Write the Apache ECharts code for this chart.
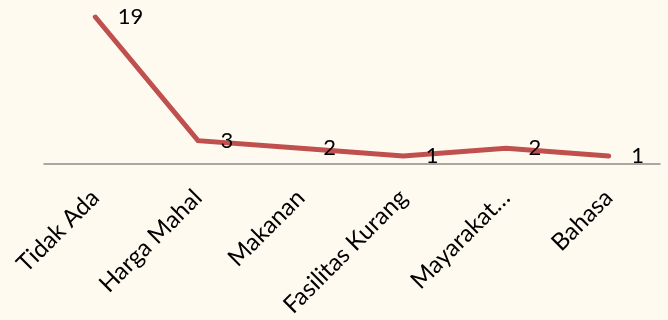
<!DOCTYPE html>
<html><head><meta charset="utf-8">
<script src="https://cdn.jsdelivr.net/npm/echarts@6/dist/echarts.min.js"></script>
<style>html,body{margin:0;padding:0;background:#FEFAF0;}#c{width:668px;height:320px;}</style>
</head><body><div id="c"></div>
<script>
var categories = ["Tidak Ada", "Harga Mahal", "Makanan", "Fasilitas Kurang", "Mayarakat…", "Bahasa"];
var values = [19, 3, 2, 1, 2, 1];

var chart = echarts.init(document.getElementById('c'), null, {renderer: 'canvas'});
chart.setOption({
  backgroundColor: '#FEFAF0',
  animation: false,
  grid: {left: 44, right: 8, top: 17, bottom: 155},
  xAxis: {
    type: 'category',
    data: categories,
    boundaryGap: true,
    axisLine: {lineStyle: {color: '#8C8C8C', width: 1.5}},
    axisTick: {show: false},
    axisLabel: {rotate: 45, margin: 30, fontFamily: 'Lato', fontSize: 24, color: '#000', interval: 0}
  },
  yAxis: {type: 'value', min: 0, max: 19, show: false, splitLine: {show: false}},
  series: [{
    type: 'line',
    data: values,
    symbol: 'circle',
    symbolSize: 1,
    showSymbol: true,
    itemStyle: {color: '#C0504D', opacity: 0},
    lineStyle: {color: '#C0504D', width: 5, cap: 'round', join: 'miter'},
    label: {show: true, position: 'right', distance: 22, offset: [0, 2], fontFamily: 'Lato', fontSize: 22, color: '#000', opacity: 1},
    labelLayout: {hideOverlap: false}
  }]
});
</script></body></html>
